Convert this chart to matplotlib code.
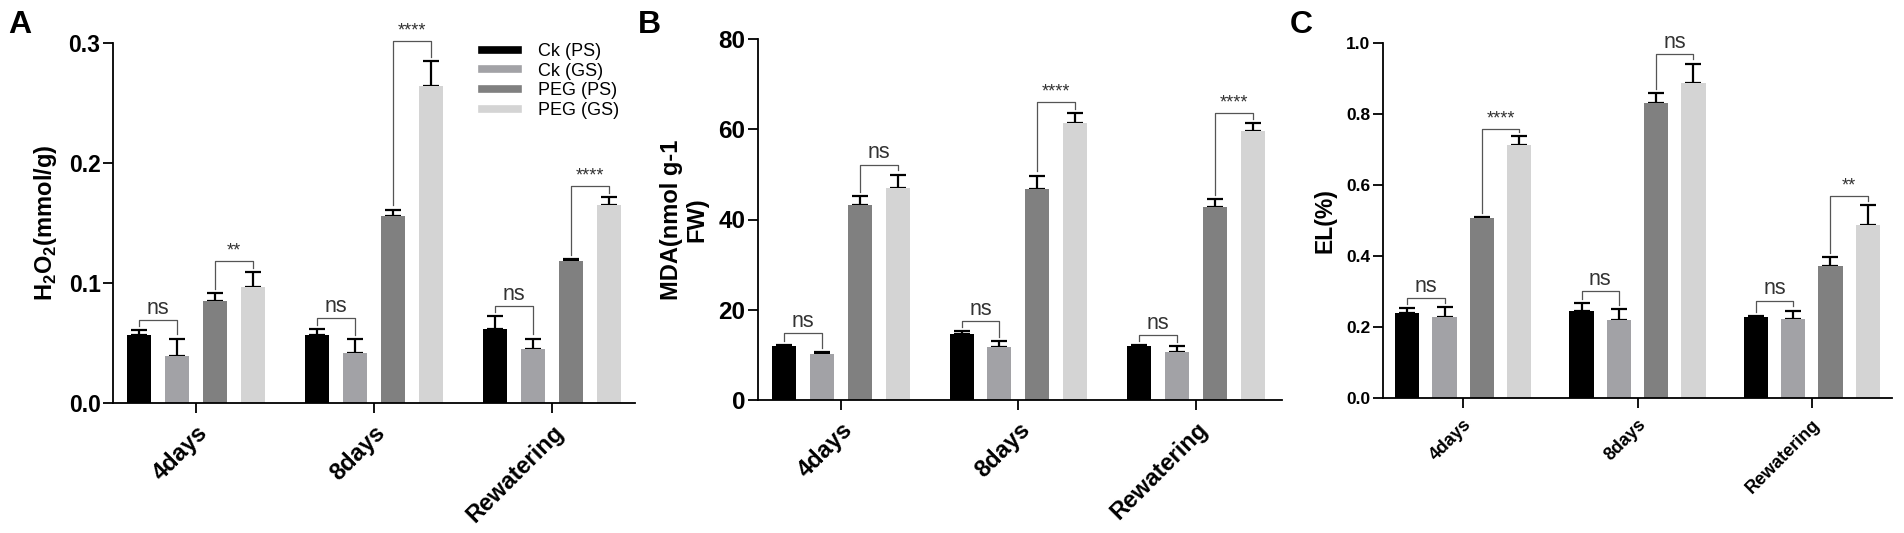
import numpy as np
import matplotlib
matplotlib.use("Agg")
import matplotlib.pyplot as plt
from matplotlib.lines import Line2D

plt.rcParams['font.family'] = ['Liberation Sans', 'DejaVu Sans']
plt.rcParams['mathtext.fontset'] = 'custom'
plt.rcParams['mathtext.rm'] = 'Liberation Sans:bold'
plt.rcParams['mathtext.bf'] = 'Liberation Sans:bold'

groups = ["4days", "8days", "Rewatering"]
series = ["Ck (PS)", "Ck (GS)", "PEG (PS)", "PEG (GS)"]
colors = ["#000000", "#a2a2a6", "#808080", "#d4d4d4"]

# H2O2 (mmol/g): mean per series, one value per group
h2o2_mean = [[0.0565, 0.0565, 0.0616],
             [0.0390, 0.0415, 0.0452],
             [0.0847, 0.1560, 0.1186],
             [0.0966, 0.2638, 0.1650]]
h2o2_sem = [[0.0042, 0.0048, 0.0110],
            [0.0147, 0.0115, 0.0085],
            [0.0071, 0.0050, 0.0012],
            [0.0122, 0.0209, 0.0065]]

# MDA (nmol g-1 FW)
mda_mean = [[11.9, 14.7, 11.9],
            [10.3, 11.8, 10.7],
            [43.2, 46.8, 42.8],
            [47.0, 61.4, 59.6]]
mda_sem = [[0.2, 0.5, 0.3],
           [0.3, 1.3, 1.2],
           [1.9, 2.9, 1.7],
           [2.9, 2.2, 1.8]]

# EL (%)
el_mean = [[0.239, 0.244, 0.227],
           [0.227, 0.219, 0.223],
           [0.507, 0.831, 0.372],
           [0.713, 0.886, 0.487]]
el_sem = [[0.015, 0.024, 0.003],
          [0.030, 0.032, 0.023],
          [0.002, 0.028, 0.025],
          [0.024, 0.056, 0.057]]

# significance brackets: (group, left series, right series, bracket top, label)
h2o2_sig = [(0, 0, 1, 0.0690, "ns"), (0, 2, 3, 0.1184, "**"),
            (1, 0, 1, 0.0706, "ns"), (1, 2, 3, 0.3020, "****"),
            (2, 0, 1, 0.0805, "ns"), (2, 2, 3, 0.1805, "****")]
mda_sig = [(0, 0, 1, 14.75, "ns"), (0, 2, 3, 52.1, "ns"),
           (1, 0, 1, 17.4, "ns"), (1, 2, 3, 66.1, "****"),
           (2, 0, 1, 14.4, "ns"), (2, 2, 3, 63.6, "****")]
el_sig = [(0, 0, 1, 0.281, "ns"), (0, 2, 3, 0.758, "****"),
          (1, 0, 1, 0.301, "ns"), (1, 2, 3, 0.969, "ns"),
          (2, 0, 1, 0.274, "ns"), (2, 2, 3, 0.568, "**")]

fig = plt.figure(figsize=(19.04, 5.33), dpi=100)
W, H = 1904, 533


def panel(box, xlim, ymax, yticks, means, sems, sigs, ylabel, tick_fs, xt_fs, lab_fs,
          slot=0.2135, width=0.135):
    l, r, t, b = box
    ax = fig.add_axes([l / W, 1 - b / H, (r - l) / W, (b - t) / H])
    x = np.arange(len(groups))
    offs = (np.arange(len(series)) - 1.5) * slot
    for i in range(len(series)):
        ax.bar(x + offs[i], means[i], width, color=colors[i], label=series[i], zorder=2)
        ax.errorbar(x + offs[i], means[i], yerr=[np.zeros(3), sems[i]], fmt="none",
                    ecolor="black", elinewidth=1.6, capsize=5.5, capthick=1.6, zorder=1)
    gap = 0.012 * ymax
    for g, i, j, top, lab in sigs:
        xi, xj = g + offs[i], g + offs[j]
        yi = means[i][g] + sems[i][g] + gap
        yj = means[j][g] + sems[j][g] + gap
        ax.plot([xi, xi, xj, xj], [yi, top, top, yj], color="#555555", lw=0.9,
                clip_on=False, zorder=3)
        fs = 15.5 if lab == "ns" else 13
        ax.text((xi + xj) / 2, top + 0.004 * ymax, lab, ha="center", va="bottom",
                fontsize=fs, color="#333333")
    ax.set_xlim(*xlim)
    ax.set_ylim(0, ymax)
    ax.set_yticks(yticks)
    ax.set_xticks(x)
    ax.set_xticklabels(groups, rotation=45, ha="right", va="top",
                       rotation_mode="anchor", fontsize=xt_fs, fontweight="bold")
    for s in ["top", "right"]:
        ax.spines[s].set_visible(False)
    for s in ["left", "bottom"]:
        ax.spines[s].set_linewidth(1.3)
    ax.tick_params(axis="both", width=1.3, length=7, direction="out")
    ax.tick_params(axis="y", labelsize=tick_fs, pad=2)
    ax.tick_params(axis="x", pad=6)
    for tl in ax.get_yticklabels():
        tl.set_fontweight("bold")
    ax.set_ylabel(ylabel, fontsize=lab_fs, fontweight="bold", labelpad=7,
                  linespacing=1.15)
    return ax


axA = panel((113, 635, 43, 403), (-0.466, 2.466), 0.3, [0.0, 0.1, 0.2, 0.3],
            h2o2_mean, h2o2_sem, h2o2_sig, r"H$_2$O$_2$(mmol/g)", 16.5, 17, 17)
axA.yaxis.set_major_formatter(matplotlib.ticker.FormatStrFormatter("%.1f"))
axB = panel((758, 1282, 39, 400), (-0.466, 2.484), 80, [0, 20, 40, 60, 80],
            mda_mean, mda_sem, mda_sig, "MDA(nmol g-1\nFW)", 17.5, 17, 17)
axC = panel((1383, 1892, 43, 398), (-0.46, 2.46), 1.0, [0.0, 0.2, 0.4, 0.6, 0.8, 1.0],
            el_mean, el_sem, el_sig, "EL(%)", 12.5, 13, 16.5, slot=0.214, width=0.14)
axC.yaxis.set_major_formatter(matplotlib.ticker.FormatStrFormatter("%.1f"))

handles = [Line2D([0], [0], color=c, lw=5.5) for c in colors]
axA.legend(handles, series, loc="upper left", bbox_to_anchor=(0.707, 1.0),
           frameon=False, fontsize=13, handlelength=2.0, handletextpad=1.1,
           labelspacing=0.15, borderpad=0, borderaxespad=0)

for lab, px in [("A", 8), ("B", 638), ("C", 1290)]:
    fig.text(px / W, 1 - 10 / H, lab, fontsize=23, fontweight="bold", va="top", ha="left")

fig.savefig("out.png", dpi=100)
